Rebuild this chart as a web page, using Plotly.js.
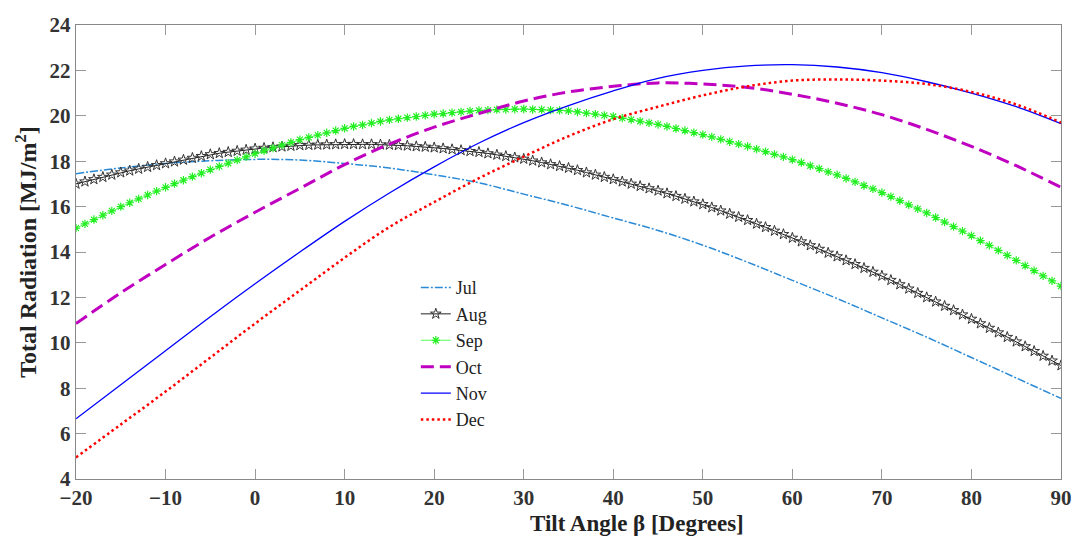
<!DOCTYPE html>
<html>
<head>
<meta charset="utf-8">
<script src="https://cdn.plot.ly/plotly-3.0.1.min.js"></script>
<style>html,body{margin:0;padding:0;background:#fff}#chart{width:1074px;height:540px}</style>
</head>
<body>
<div id="chart"></div>
<script>
// Tilt angles every 5 degrees (line-only series)
const angles5 = [-20,-15,-10,-5,0,5,10,15,20,25,30,35,40,45,50,55,60,65,70,75,80,85,90];
// Tilt angles every 1 degree (marker series)
const angles1 = [];
for (let a = -20; a <= 90; a++) angles1.push(a);

const jul = [17.45,17.70,17.90,18.02,18.08,18.05,17.90,17.70,17.40,17.05,16.55,16.05,15.50,14.95,14.30,13.55,12.75,11.95,11.10,10.25,9.35,8.45,7.55];
const oct = [10.85,12.20,13.45,14.65,15.75,16.80,17.85,18.75,19.50,20.10,20.65,21.05,21.30,21.45,21.40,21.25,20.95,20.55,20.05,19.40,18.65,17.80,16.85];
const nov = [6.65,8.15,9.65,11.15,12.60,14.00,15.35,16.60,17.75,18.80,19.70,20.45,21.10,21.65,22.00,22.20,22.25,22.15,21.90,21.50,21.00,20.40,19.65];
const dec = [4.95,6.40,7.85,9.35,10.85,12.30,13.75,15.10,16.20,17.25,18.20,19.10,19.85,20.40,20.90,21.30,21.55,21.60,21.55,21.40,21.05,20.50,19.70];

const aug = [17.00,17.10,17.20,17.30,17.40,17.50,17.58,17.66,17.74,17.82,17.90,17.98,18.06,18.14,18.22,18.30,18.35,18.40,18.45,18.50,
18.55,18.58,18.61,18.64,18.67,18.70,18.71,18.72,18.73,18.74,18.75,18.75,18.74,18.74,18.73,18.72,18.70,18.68,18.65,18.63,
18.60,18.56,18.52,18.48,18.44,18.40,18.34,18.28,18.22,18.16,18.10,18.02,17.94,17.86,17.78,17.70,17.60,17.50,17.40,17.30,
17.20,17.10,17.00,16.90,16.80,16.70,16.58,16.46,16.34,16.22,16.10,15.96,15.82,15.68,15.54,15.40,15.24,15.09,14.93,14.78,
14.62,14.46,14.29,14.13,13.96,13.80,13.63,13.46,13.29,13.12,12.95,12.76,12.57,12.38,12.19,12.00,11.81,11.62,11.43,11.24,
11.05,10.85,10.65,10.45,10.25,10.05,9.84,9.63,9.42,9.21,9.00];

const sep = [15.05,15.24,15.43,15.62,15.81,16.00,16.17,16.34,16.51,16.68,16.85,17.01,17.16,17.32,17.47,17.63,17.77,17.91,18.05,18.19,
18.33,18.46,18.58,18.71,18.83,18.95,19.05,19.15,19.25,19.35,19.45,19.53,19.60,19.68,19.75,19.82,19.87,19.92,19.97,20.02,
20.07,20.10,20.14,20.17,20.21,20.24,20.25,20.27,20.28,20.29,20.30,20.28,20.27,20.25,20.24,20.22,20.17,20.12,20.07,20.02,
19.97,19.90,19.83,19.76,19.69,19.62,19.53,19.44,19.35,19.26,19.17,19.07,18.96,18.86,18.75,18.65,18.53,18.42,18.30,18.19,
18.07,17.94,17.80,17.67,17.53,17.40,17.24,17.09,16.93,16.78,16.62,16.44,16.26,16.08,15.90,15.72,15.52,15.32,15.12,14.92,
14.72,14.50,14.29,14.07,13.85,13.63,13.40,13.18,12.95,12.73,12.50];

const xTicks = [-20,-10,0,10,20,30,40,50,60,70,80,90];
const yTicks = [4,6,8,10,12,14,16,18,20,22,24];
const xTitle = 'Tilt Angle β [Degrees]';
const yTitle = 'Total Radiation [MJ/m<sup>2</sup>]';

const FONT = "'Liberation Serif', 'DejaVu Serif', serif";

const traces = [
  {name:'Jul', x:angles5, y:jul, mode:'lines', line:{color:'#2a8ad6', width:1.5, dash:'8px,2px,2px,2px', shape:'spline'}},
  {name:'Aug', x:angles1, y:aug, mode:'lines+markers', line:{color:'#222222', width:1}, marker:{symbol:'star-open', size:8, color:'#333333', line:{width:1, color:'#333333'}}},
  {name:'Sep', x:angles1, y:sep, mode:'lines+markers', line:{color:'#55ff55', width:1}, marker:{symbol:'asterisk-open', size:7, color:'#22ee22', line:{width:1.2, color:'#22ee22'}}},
  {name:'Oct', x:angles5, y:oct, mode:'lines', line:{color:'#c000c0', width:3, dash:'13px,6px', shape:'spline'}},
  {name:'Nov', x:angles5, y:nov, mode:'lines', line:{color:'#0000ff', width:1.3, shape:'spline'}},
  {name:'Dec', x:angles5, y:dec, mode:'lines', line:{color:'#ff0000', width:2.5, dash:'2.5px,3px', shape:'spline'}}
];

const axisCommon = {
  showgrid:false, zeroline:false, showline:true, linecolor:'#888888', linewidth:1.2,
  mirror:'ticks', ticks:'inside', ticklen:10, tickcolor:'#999999', tickwidth:1,
  tickfont:{family:FONT, size:21, color:'#333333', weight:'bold'}
};

const layout = {
  width:1074, height:540,
  margin:{l:76, r:13, t:25, b:61},
  paper_bgcolor:'#ffffff', plot_bgcolor:'#ffffff',
  font:{family:FONT, color:'#222222'},
  xaxis:Object.assign({}, axisCommon, {
    range:[-20,90], tickvals:xTicks, ticktext:xTicks.map(v => v < 0 ? '\u2212' + Math.abs(v) : String(v))
  }),
  yaxis:Object.assign({}, axisCommon, {
    range:[4,24], tickvals:yTicks,
    title:{text:'<b>' + yTitle + '</b>', font:{family:FONT, size:24, color:'#222222'}, standoff:6}
  }),
  annotations:[{
    text:'<b>' + xTitle + '</b>', xref:'paper', yref:'paper', x:0.5695, y:0, yshift:-44,
    xanchor:'center', yanchor:'middle', showarrow:false,
    font:{family:FONT, size:23, color:'#222222'}
  }],
  showlegend:true,
  legend:{x:0.345, y:0.462, xanchor:'left', yanchor:'top', bgcolor:'rgba(0,0,0,0)', borderwidth:0,
          font:{family:FONT, size:18, color:'#222222'}, tracegroupgap:0, itemwidth:30}
};

Plotly.newPlot('chart', traces, layout, {displayModeBar:false, staticPlot:true});
</script>
</body>
</html>
